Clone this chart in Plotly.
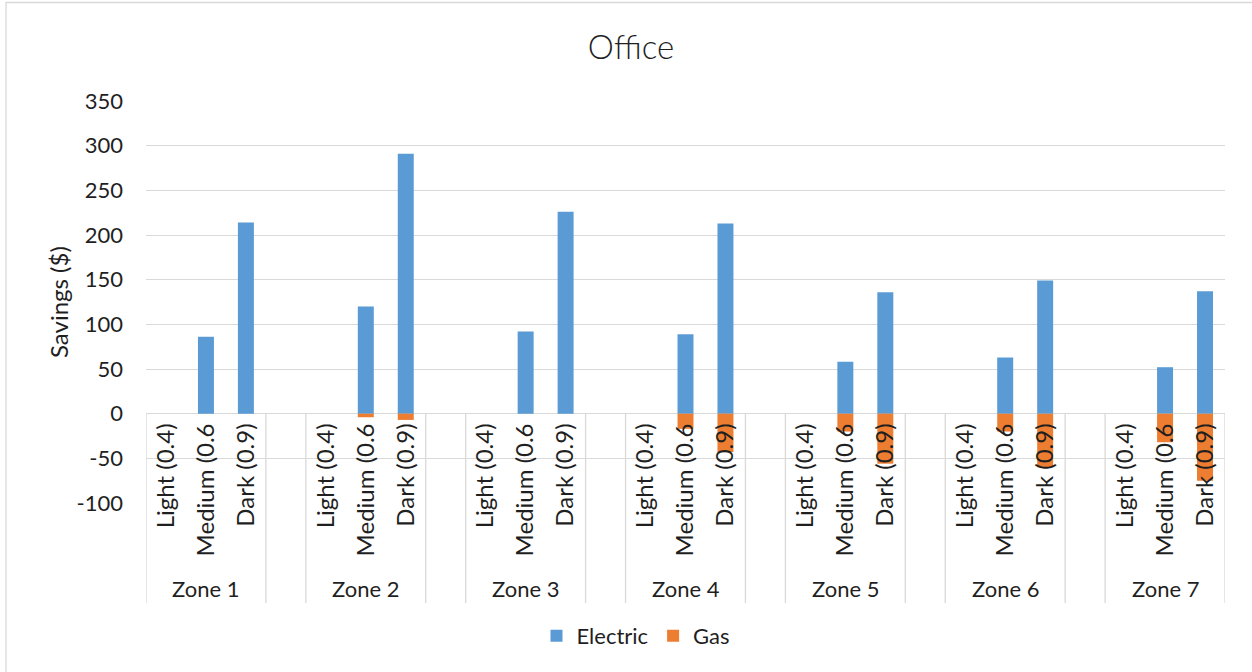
import plotly.graph_objects as go

# Climate zones and roof shade (solar absorptance) levels
zones = ["Zone 1", "Zone 2", "Zone 3", "Zone 4", "Zone 5", "Zone 6", "Zone 7"]
shades = ["Light (0.4)", "Medium (0.6", "Dark (0.9)"]

# Annual savings ($), one value per zone/shade, in zone order
electric_savings = [0, 86, 214,
                    0, 120, 291,
                    0, 92, 226,
                    0, 89, 213,
                    0, 58, 136,
                    0, 63, 149,
                    0, 52, 137]
gas_savings = [0, 0, 0,
               0, -4, -7,
               0, 0, 0,
               0, -17, -43,
               0, -20, -56,
               0, -20, -60,
               0, -32, -75]

y_ticks = [-100, -50, 0, 50, 100, 150, 200, 250, 300, 350]
y_tick_labels = [str(v) for v in y_ticks]

ELECTRIC_COLOR = "#5B9BD5"
GAS_COLOR = "#ED7D31"
GRID = "#D9D9D9"
FONT = "Lato"
TEXT = "#1F1F1F"

# Category slots: three shades per zone plus an empty spacer slot between zones
keys, labels, elec_y, gas_y = [], [], [], []
zone_mid_keys = []
i = 0
for zi, zone in enumerate(zones):
    for si, shade in enumerate(shades):
        key = f"{zone} | {shade}"
        keys.append(key)
        labels.append(shade)
        elec_y.append(electric_savings[i])
        gas_y.append(gas_savings[i])
        if si == 1:
            zone_mid_keys.append(key)
        i += 1
    if zi < len(zones) - 1:
        keys.append(f"{zone} | spacer")
        labels.append("")
        elec_y.append(None)
        gas_y.append(None)

n_slots = len(keys)
y_min, y_max = y_ticks[0], y_ticks[-1]

# Geometry of the figure in pixels
W, H = 1252, 672
m_l, m_r, m_t, m_b = 146, 27, 101, 169
plot_h = H - m_t - m_b
plot_w = W - m_l - m_r


def py(px):
    """Pixel row -> paper y."""
    return (H - m_b - px) / plot_h


def px_x(px):
    """Pixel column -> paper x."""
    return (px - m_l) / plot_w


zero_frac = (0 - y_min) / (y_max - y_min)

fig = go.Figure()
fig.add_trace(go.Bar(x=keys, y=elec_y, name="Electric",
                     marker=dict(color=ELECTRIC_COLOR, line=dict(width=0))))
fig.add_trace(go.Bar(x=keys, y=gas_y, name="Gas",
                     marker=dict(color=GAS_COLOR, line=dict(width=0))))

# Divider lines of the two-level category axis
shapes = []
for zi in range(len(zones)):
    start = zi * 4
    for b in (start - 0.5, start + 2.5):
        shapes.append(dict(type="line", xref="x", yref="paper",
                           x0=b, x1=b, y0=zero_frac, y1=py(603),
                           line=dict(color=GRID, width=1.3), layer="below"))

# Chart frame
shapes.append(dict(type="rect", xref="paper", yref="paper",
                   x0=px_x(6), x1=px_x(1262), y0=py(2.5), y1=py(690),
                   line=dict(color=GRID, width=1.3), layer="below"))

annotations = []
for zone, key in zip(zones, zone_mid_keys):
    annotations.append(dict(text=zone, x=key, xref="x", y=py(588), yref="paper",
                            showarrow=False, xanchor="center", yanchor="middle",
                            font=dict(family=FONT, size=22, color=TEXT)))
annotations.append(dict(text="Savings ($)", textangle=-90, x=px_x(58), xref="paper",
                        y=py(302), yref="paper", showarrow=False,
                        xanchor="center", yanchor="middle",
                        font=dict(family=FONT, size=24, color=TEXT)))

fig.update_layout(
    width=W, height=H,
    margin=dict(l=m_l, r=m_r, t=m_t, b=m_b, autoexpand=False),
    paper_bgcolor="white", plot_bgcolor="white",
    barmode="relative", bargap=0.6,
    title=dict(text="Office", x=631 / W, xref="container", xanchor="center",
               y=1 - 47 / H, yref="container", yanchor="middle",
               font=dict(family=FONT, size=33, color=TEXT, weight=300)),
    xaxis=dict(type="category", categoryorder="array", categoryarray=keys,
               range=[-0.5, n_slots - 0.5], tickvals=keys, ticktext=labels,
               tickangle=-90, showgrid=False, showline=False, ticks="",
               anchor="free", position=zero_frac, ticklabelstandoff=4,
               tickfont=dict(family=FONT, size=24, color=TEXT), automargin=False),
    yaxis=dict(range=[y_min, y_max], tickvals=y_ticks, ticktext=y_tick_labels,
               showgrid=True, gridcolor=GRID, gridwidth=1.3, zeroline=True,
               zerolinecolor=GRID, zerolinewidth=1.3, showline=False, ticks="",
               ticklabelstandoff=22,
               tickfont=dict(family=FONT, size=22, color=TEXT), automargin=False),
    legend=dict(orientation="h", x=px_x(636), xanchor="center",
                y=py(636), yanchor="middle", traceorder="normal",
                font=dict(family=FONT, size=22, color=TEXT), itemwidth=30),
    shapes=shapes,
    annotations=annotations,
    showlegend=True,
)

fig.write_html("out.html")
